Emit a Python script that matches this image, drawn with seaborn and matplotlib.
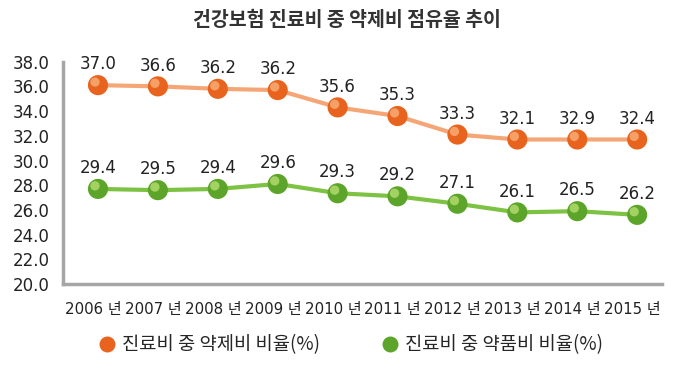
import numpy as np
import pandas as pd
import matplotlib
matplotlib.use("Agg")
import matplotlib.pyplot as plt
from matplotlib.lines import Line2D
import seaborn as sns

# data
years = ['2006 년', '2007 년', '2008 년', '2009 년', '2010 년',
         '2011 년', '2012 년', '2013 년', '2014 년', '2015 년']
# values written above the points
drug_labels = [37.0, 36.6, 36.2, 36.2, 35.6, 35.3, 33.3, 32.1, 32.9, 32.4]
med_labels = [29.4, 29.5, 29.4, 29.6, 29.3, 29.2, 27.1, 26.1, 26.5, 26.2]
# heights where the points sit on the axis
drug_pos = [36.1, 36.0, 35.8, 35.7, 34.3, 33.6, 32.1, 31.7, 31.7, 31.7]
med_pos = [27.7, 27.6, 27.7, 28.1, 27.35, 27.1, 26.5, 25.8, 25.9, 25.6]
series_names = ['진료비 중 약제비 비율(%)', '진료비 중 약품비 비율(%)']

sns.set_style("white")
plt.rcParams['font.family'] = ['DejaVu Sans', 'Noto Sans CJK KR']
kr_font = ['Noto Sans CJK KR', 'DejaVu Sans']

x = np.arange(len(years)) + 0.08
df = pd.DataFrame({
    'x': np.concatenate([x, x]),
    'y': drug_pos + med_pos,
    'series': [series_names[0]] * len(x) + [series_names[1]] * len(x),
})

line_cols = ['#F5A676', '#7DC242']
dot_cols = ['#E8641E', '#5DA52A']
hi_cols = ['#F8B07A', '#B5DE72']

fig = plt.figure(figsize=(6.8, 3.67), dpi=100)
ax = fig.add_axes([0.093, 0.226, 0.881, 0.606])

sns.lineplot(data=df, x='x', y='y', hue='series', palette=line_cols,
             linewidth=3, legend=False, ax=ax, zorder=2)
sns.scatterplot(data=df, x='x', y='y', hue='series', palette=dot_cols,
                s=210, edgecolor='none', legend=False, ax=ax, zorder=3)
# little highlight to look like a ball
for i, pos in enumerate([drug_pos, med_pos]):
    ax.scatter(x - 0.05, np.array(pos) + 0.25, s=45, color=hi_cols[i],
               edgecolor='none', alpha=0.8, zorder=4)

for pos, labs in [(drug_pos, drug_labels), (med_pos, med_labels)]:
    for xi, yp, lab in zip(x, pos, labs):
        ax.annotate(f'{lab:.1f}', (xi, yp), xytext=(0, 15),
                    textcoords='offset points', ha='center', va='center',
                    fontsize=12, color='#222222')

ticks = np.arange(20, 38.1, 2)
ax.set_ylim(20, 38)
ax.set_xlim(-0.5, len(years) - 0.5)
ax.set_yticks(ticks)
ax.set_yticklabels([f'{v:.1f}' for v in ticks], fontsize=12, color='#222222')
ax.set_xticks(np.arange(-0.5, len(years), 1))
ax.set_xticklabels([])
ax.set_xticks(np.arange(len(years)), minor=True)
ax.set_xticklabels(years, minor=True, fontsize=10.8, color='#222222')
ax.tick_params(axis='x', which='minor', length=0, pad=13)
ax.tick_params(axis='x', which='major', length=6, width=2, color='#A6A6A6')
ax.tick_params(axis='y', length=5, width=2, color='#A6A6A6', pad=5)
ax.set_xlabel('')
ax.set_ylabel('')
for s in ['top', 'right']:
    ax.spines[s].set_visible(False)
for s in ['left', 'bottom']:
    ax.spines[s].set_color('#A6A6A6')
    ax.spines[s].set_linewidth(2.5)

fig.text(0.51, 0.943, '건강보험 진료비 중 약제비 점유율 추이', ha='center', va='center',
         fontsize=14, fontweight='bold', color='#333333', family=kr_font)

handles = [Line2D([], [], marker='o', linestyle='none', markersize=11.5,
                  markerfacecolor=c, markeredgecolor='none') for c in dot_cols]
fig.legend(handles, series_names, loc='center', bbox_to_anchor=(0.515, 0.06),
           ncol=2, frameon=False, columnspacing=3.2, handletextpad=0.3,
           handlelength=1.0, prop={'family': kr_font, 'size': 13.5})

fig.savefig('out.png', dpi=100, facecolor='white')
